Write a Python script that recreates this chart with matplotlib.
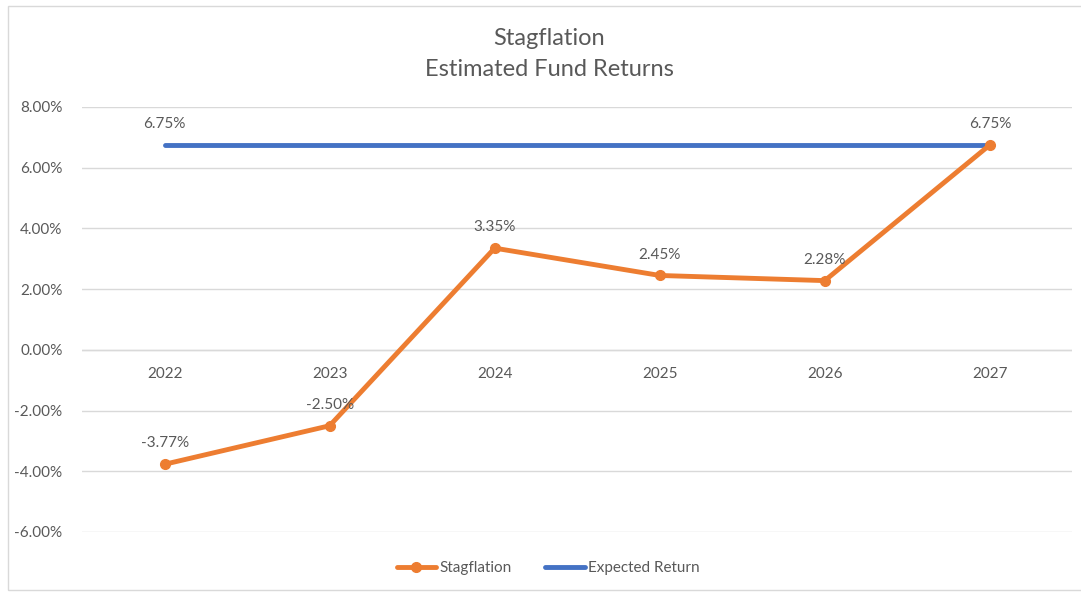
import matplotlib
matplotlib.use("Agg")
import matplotlib.pyplot as plt
from matplotlib.patches import Rectangle
from matplotlib.ticker import FuncFormatter

years = ["2022", "2023", "2024", "2025", "2026", "2027"]
stagflation = [-3.77, -2.50, 3.35, 2.45, 2.28, 6.75]
expected_return = [6.75, 6.75, 6.75, 6.75, 6.75, 6.75]

orange = "#ED7D31"
blue = "#4472C4"
text_gray = "#595959"
grid_gray = "#D9D9D9"

plt.rcParams['font.family'] = ['Lato', 'DejaVu Sans']

fig = plt.figure(figsize=(10.81, 5.93), dpi=100)
ax = fig.add_axes([0.0759, 0.1029, 0.9161, 0.7167])

x = list(range(len(years)))
ax.plot(x, expected_return, color=blue, linewidth=3.5, solid_capstyle='round',
        label="Expected Return", zorder=2)
ax.plot(x, stagflation, color=orange, linewidth=3.5, marker='o', markersize=7,
        solid_capstyle='round', label="Stagflation", zorder=3)

# data labels
for xi, v in zip(x, stagflation):
    ax.annotate(f"{v:.2f}%", (xi, v), xytext=(0, 10), textcoords='offset points',
                ha='center', va='bottom', fontsize=11, color=text_gray)
ax.annotate(f"{expected_return[0]:.2f}%", (x[0], expected_return[0]), xytext=(0, 10),
            textcoords='offset points', ha='center', va='bottom', fontsize=11, color=text_gray)

# category labels next to the zero line
for xi, y in zip(x, years):
    ax.annotate(y, (xi, 0), xytext=(0, -12), textcoords='offset points',
                ha='center', va='top', fontsize=11, color=text_gray)

ax.set_xlim(-0.5, len(years) - 0.5)
ax.set_ylim(-6, 8)
ax.set_yticks([-6, -4, -2, 0, 2, 4, 6, 8])
ax.yaxis.set_major_formatter(FuncFormatter(lambda v, p: f"{v:.2f}%"))
ax.tick_params(axis='y', length=0, labelsize=11, labelcolor=text_gray, pad=14)
ax.set_xticks([])
ax.grid(axis='y', color=grid_gray, linewidth=1)
ax.set_axisbelow(True)
for s in ax.spines.values():
    s.set_visible(False)
ax.axhline(0, color=grid_gray, linewidth=1, zorder=1)

fig.text(0.508, 0.935, "Stagflation", ha='center', va='center', fontsize=17, color=text_gray)
fig.text(0.508, 0.882, "Estimated Fund Returns", ha='center', va='center', fontsize=17, color=text_gray)

handles, labels = ax.get_legend_handles_labels()
fig.legend(handles[::-1], labels[::-1], loc='center', bbox_to_anchor=(0.507, 0.042), ncol=2,
           frameon=False, fontsize=11, labelcolor=text_gray, handlelength=2.6,
           handletextpad=0.2, columnspacing=2.2)

fig.patches.append(Rectangle((8 / 1081, 3 / 593), 1.0, 1 - 9 / 593, transform=fig.transFigure,
                             fill=False, edgecolor=grid_gray, linewidth=1))

plt.savefig("out.png", dpi=100)
